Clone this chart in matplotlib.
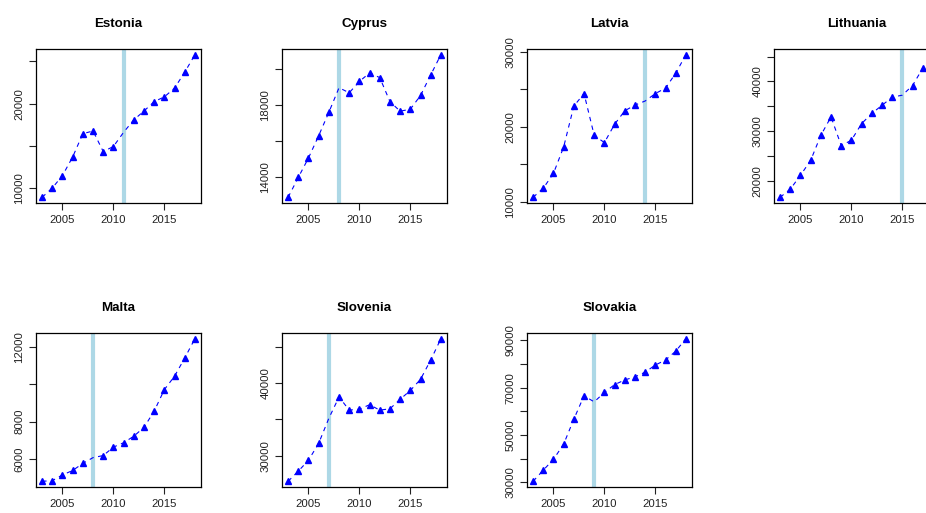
import numpy as np
import matplotlib
matplotlib.use("Agg")
import matplotlib.pyplot as plt

plt.rcParams['font.family'] = ['Liberation Sans', 'DejaVu Sans']

years = list(range(2003, 2019))

countries = ["Estonia", "Cyprus", "Latvia", "Lithuania", "Malta", "Slovenia", "Slovakia"]
euro_year = [2011, 2008, 2014, 2015, 2008, 2007, 2009]

estonia = [8900, 10000, 11480, 13680, 16440, 16760, 14320, 14920, 16600, 18080,
           19120, 20240, 20800, 21840, 23720, 25800]
cyprus = [12900, 14000, 15080, 16310, 17610, 18970, 18690, 19320, 19790, 19530,
          18200, 17670, 17780, 18540, 19680, 20800]
latvia = [10590, 11800, 13780, 17300, 22750, 24410, 18830, 17880, 20320, 22120,
          22880, 23420, 24410, 25140, 27120, 29590]
lithuania = [16650, 18290, 21090, 24100, 29150, 32870, 27070, 28160, 31500, 33550,
             35190, 36830, 37240, 39180, 42660, 45400]
malta = [4830, 4865, 5170, 5405, 5785, 6090, 6200, 6650, 6880, 7230,
         7700, 8560, 9710, 10420, 11390, 12420]
slovenia = [26510, 27900, 29400, 31720, 35160, 38090, 36280, 36420, 37020, 36280,
            36470, 37770, 38980, 40510, 43160, 46090]
slovakia = [30430, 35140, 39710, 46140, 56710, 66570, 64000, 68000, 71290, 73290,
            74570, 76570, 79570, 81710, 85430, 90710]

series = [estonia, cyprus, latvia, lithuania, malta, slovenia, slovakia]

# y ticks, R drops the labels that would overlap
yticks = [
    ([10000, 15000, 20000, 25000], ["10000", "", "20000", ""]),
    ([14000, 16000, 18000, 20000], ["14000", "", "18000", ""]),
    ([10000, 15000, 20000, 25000, 30000], ["10000", "", "20000", "", "30000"]),
    ([20000, 25000, 30000, 35000, 40000, 45000], ["20000", "", "30000", "", "40000", ""]),
    ([6000, 8000, 10000, 12000], ["6000", "8000", "", "12000"]),
    ([30000, 35000, 40000, 45000], ["30000", "", "40000", ""]),
    ([30000, 40000, 50000, 60000, 70000, 80000, 90000],
     ["30000", "", "50000", "", "70000", "", "90000"]),
]

W, H = 926, 513
fig = plt.figure(figsize=(W / 100, H / 100), dpi=100)

lefts = [36, 282, 527, 774]
tops = [49, 333]
bw, bh = 165, 154

for i, name in enumerate(countries):
    r, c = divmod(i, 4)
    ax = fig.add_axes([lefts[c] / W, 1 - (tops[r] + bh) / H, bw / W, bh / H])
    y = np.array(series[i], dtype=float)
    yr = np.array(years)
    ax.axvline(euro_year[i], color='lightblue', lw=3, zorder=1)
    ax.plot(yr, y, color='blue', lw=0.8, ls=(0, (4, 4)), zorder=2)
    keep = yr != euro_year[i]
    ax.plot(yr[keep], y[keep], ls='none', marker='^', ms=5, color='blue', zorder=3)
    ax.set_xlim(2002.4, 2018.6)
    pad = (y.max() - y.min()) * 0.04
    ax.set_ylim(y.min() - pad, y.max() + pad)
    ax.set_xticks([2005, 2010, 2015])
    ax.set_yticks(yticks[i][0])
    ax.set_yticklabels(yticks[i][1], rotation=90, va='center')
    ax.tick_params(labelsize=8.2, length=5, width=0.8, colors='#222222')
    for s in ax.spines.values():
        s.set_linewidth(0.9)
    ax.set_title(name, fontsize=9.6, fontweight='bold', pad=16)

fig.savefig("out.png", dpi=100)
